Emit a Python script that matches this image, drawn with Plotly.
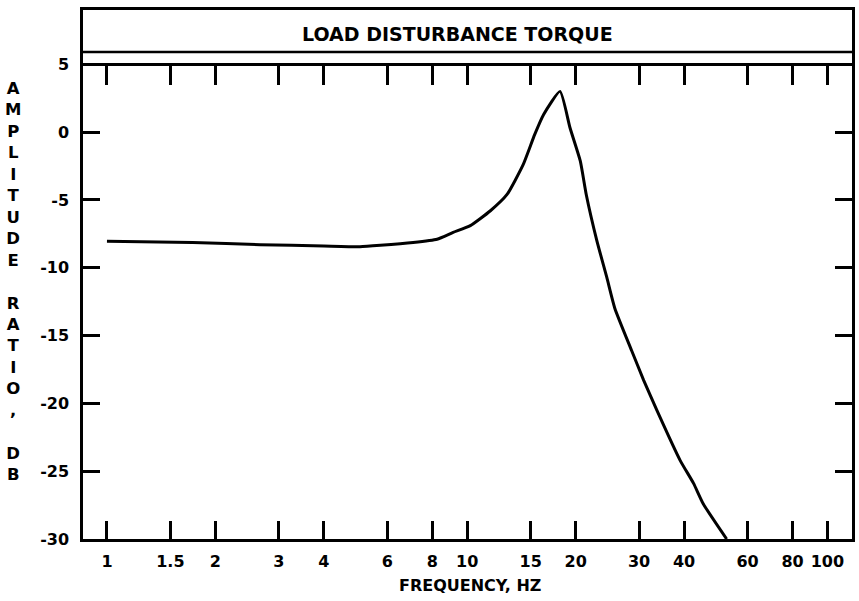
import math
import plotly.graph_objects as go

# ---- data ----
freq_hz = [1.0, 1.73, 2.66, 4.0, 5.04, 5.74, 7.08, 8.25, 9.14, 10.2, 11.6, 12.9,
           14.3, 15.4, 16.3, 18.1, 19.3, 20.6, 21.4, 22.9, 24.4, 25.7, 28.6, 30.9, 33.6,
           39.0, 42.5, 45.2, 52.5]
amp_db = [-8.05, -8.14, -8.3, -8.4, -8.45, -8.35, -8.14, -7.9, -7.4, -6.9, -5.8, -4.6,
          -2.4, -0.17, 1.3, 3.0, 0.3, -2.13, -4.6, -8.0, -10.7, -13.0, -16.1, -18.3, -20.5,
          -24.2, -25.9, -27.4, -30.0]

x_tickvals = [1, 1.5, 2, 3, 4, 6, 8, 10, 15, 20, 30, 40, 60, 80, 100]
x_ticktext = ["1", "1.5", "2", "3", "4", "6", "8", "10", "15", "20", "30", "40", "60", "80", "100"]
y_tickvals = [5, 0, -5, -10, -15, -20, -25, -30]
y_ticktext = ["5", "0", "-5", "-10", "-15", "-20", "-25", "-30"]

title_text = "LOAD DISTURBANCE TORQUE"
x_title = "FREQUENCY, HZ"
y_title = "AMPLITUDE RATIO, DB"

# ---- style ----
X_RANGE = [math.log10(0.858), math.log10(117)]
Y_RANGE = [-30, 9]
TOP_TICK_LEVEL = 5
TITLE_BOX_BOTTOM = 5.9
FONT = "DejaVu Sans"
INK = "black"
LW = 2.5

fig = go.Figure()
fig.add_trace(go.Scatter(x=freq_hz, y=amp_db, mode="lines",
                         line=dict(color=INK, width=3, shape="spline", smoothing=0.5),
                         showlegend=False, hoverinfo="skip"))
# invisible helper trace so the secondary (top tick row) axis is drawn
fig.add_trace(go.Scatter(x=[freq_hz[0]], y=[amp_db[0]], xaxis="x2", mode="lines",
                         opacity=0, showlegend=False, hoverinfo="skip"))

tickfont = dict(family=FONT, size=16, color=INK, weight="bold")

fig.update_layout(
    width=859, height=601,
    margin=dict(l=83, r=7, t=10, b=62, autoexpand=False),
    paper_bgcolor="white", plot_bgcolor="white",
    hovermode=False,
    xaxis=dict(type="log", range=X_RANGE, tickvals=x_tickvals, ticktext=x_ticktext,
               ticks="inside", ticklen=18, tickwidth=LW, tickcolor=INK,
               showline=True, linewidth=LW, linecolor=INK, mirror=True,
               showgrid=False, zeroline=False, tickfont=tickfont,
               ticklabelstandoff=6, automargin=False),
    xaxis2=dict(type="log", range=X_RANGE, overlaying="x", anchor="free",
                side="top",
                position=(TOP_TICK_LEVEL - Y_RANGE[0]) / (Y_RANGE[1] - Y_RANGE[0]),
                tickvals=x_tickvals, ticks="inside", ticklen=19, tickwidth=LW,
                tickcolor=INK, showline=True, linewidth=LW, linecolor=INK,
                showticklabels=False, showgrid=False, zeroline=False,
                automargin=False),
    yaxis=dict(range=Y_RANGE, tickvals=y_tickvals, ticktext=y_ticktext,
               ticks="inside", ticklen=17, tickwidth=LW, tickcolor=INK,
               showline=True, linewidth=LW, linecolor=INK, mirror="ticks",
               showgrid=False, zeroline=False, tickfont=tickfont,
               ticklabelstandoff=8, automargin=False),
    shapes=[dict(type="line", xref="x domain", yref="y", x0=0, x1=1,
                 y0=TITLE_BOX_BOTTOM, y1=TITLE_BOX_BOTTOM,
                 line=dict(color=INK, width=LW))],
    annotations=[
        dict(text=title_text, xref="paper", yref="y", x=0.487, y=7.2,
             showarrow=False, xanchor="center", yanchor="middle",
             font=dict(family=FONT, size=19, color=INK, weight="bold")),
        dict(text=x_title, xref="paper", yref="paper", x=0.503, y=-0.087,
             showarrow=False, xanchor="center", yanchor="middle",
             font=dict(family=FONT, size=16, color=INK, weight="bold")),
        dict(text="<br>".join(ch if ch != " " else "\u00a0" for ch in y_title),
             xref="paper", yref="y", x=-0.091, y=-11,
             showarrow=False, xanchor="center", yanchor="middle",
             font=dict(family=FONT, size=16.5, color=INK, weight="bold")),
    ],
)

fig.write_html("out.html",
               config={"displayModeBar": False},
               post_script="document.body.style.margin='0';document.body.style.overflow='hidden';")
